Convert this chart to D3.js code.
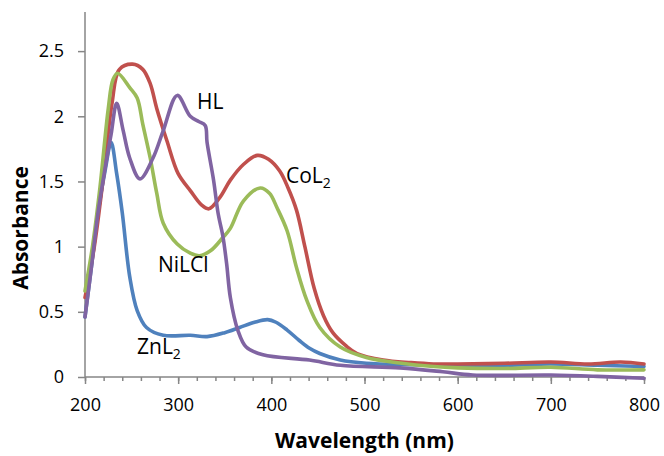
<!DOCTYPE html>
<html>
<head>
<meta charset="utf-8">
<script src="https://cdn.jsdelivr.net/npm/d3@7"></script>
<style>
  html, body { margin: 0; padding: 0; background: #ffffff; }
  svg { display: block; }
  text { font-family: "Open Sans", "Liberation Sans", sans-serif; fill: #000; }
</style>
</head>
<body>
<svg id="chart" width="664" height="456"></svg>
<script>
// ---- Data ----
const xTicks = [200, 300, 400, 500, 600, 700, 800];
const yTicks = [0, 0.5, 1, 1.5, 2, 2.5];
const yTickLabels = ["0", "0.5", "1", "1.5", "2", "2.5"];

const znWave = [200, 207, 214, 222, 228, 234, 240, 248, 256, 266, 284, 313, 331, 350, 366, 382, 396, 405, 417, 430, 441, 452, 474, 502, 550, 600, 650, 700, 750, 800];
const znAbs  = [0.46, 0.85, 1.26, 1.60, 1.80, 1.56, 1.26, 0.77, 0.51, 0.38, 0.32, 0.32, 0.31, 0.34, 0.38, 0.42, 0.44, 0.42, 0.36, 0.28, 0.22, 0.18, 0.13, 0.105, 0.095, 0.09, 0.09, 0.10, 0.09, 0.08];

const coWave = [200, 210, 220, 229, 237, 251, 262, 270, 277, 288, 300, 313, 325, 333, 345, 356, 370, 385, 397, 409, 418, 427, 436, 446, 456, 466, 480, 492, 520, 550, 574, 600, 650, 700, 740, 775, 800];
const coAbs  = [0.61, 1.00, 1.55, 2.10, 2.36, 2.40, 2.36, 2.25, 2.06, 1.81, 1.56, 1.43, 1.32, 1.29, 1.38, 1.51, 1.63, 1.70, 1.67, 1.58, 1.45, 1.28, 1.00, 0.68, 0.47, 0.34, 0.24, 0.18, 0.13, 0.11, 0.10, 0.10, 0.105, 0.115, 0.10, 0.115, 0.10];

const niWave = [200, 208, 216, 225, 230, 235, 248, 256, 262, 270, 277, 284, 299, 313, 323, 335, 348, 356, 370, 388, 398, 406, 417, 427, 438, 452, 474, 502, 538, 574, 600, 650, 700, 750, 800];
const niAbs  = [0.66, 1.00, 1.45, 2.06, 2.28, 2.33, 2.22, 2.14, 1.94, 1.68, 1.41, 1.18, 1.02, 0.95, 0.93, 0.97, 1.07, 1.14, 1.35, 1.45, 1.41, 1.30, 1.12, 0.84, 0.59, 0.38, 0.23, 0.15, 0.107, 0.08, 0.07, 0.065, 0.075, 0.055, 0.055];

const hlWave = [200, 207, 214, 222, 228, 234, 241, 248, 259, 273, 284, 299, 313, 322, 329, 331, 338, 343, 348, 352, 356, 364, 373, 391, 441, 474, 538, 584, 616, 700, 750, 800];
const hlAbs  = [0.46, 0.85, 1.26, 1.62, 1.86, 2.10, 1.89, 1.68, 1.52, 1.68, 1.89, 2.16, 2.00, 1.96, 1.93, 1.80, 1.51, 1.25, 1.08, 0.87, 0.61, 0.36, 0.23, 0.17, 0.13, 0.09, 0.07, 0.04, 0.015, 0.015, 0.005, -0.01];

const seriesNames  = ["ZnL2", "CoL2", "NiLCl", "HL"];
const seriesColors = ["#4F81BD", "#C0504D", "#9BBB59", "#8064A2"];

// ---- Layout ----
const svg = d3.select("#chart");
const plotL = 85, plotR = 644, plotT = 12, plotB = 377;

const x = d3.scaleLinear().domain([200, 800]).range([plotL, plotR]);
const y = d3.scaleLinear().domain([0, 2.8]).range([plotB, plotT]);

const axisColor = "#868686";

const series = [
  {name: seriesNames[0], color: seriesColors[0], w: znWave, a: znAbs},
  {name: seriesNames[1], color: seriesColors[1], w: coWave, a: coAbs},
  {name: seriesNames[2], color: seriesColors[2], w: niWave, a: niAbs},
  {name: seriesNames[3], color: seriesColors[3], w: hlWave, a: hlAbs}
];
const line = d3.line().x(d => x(d[0])).y(d => y(d[1])).curve(d3.curveCatmullRom.alpha(0.5));

// Axes
const xAxisMinor = d3.axisBottom(x).tickValues(d3.range(200, 801, 20)).tickSize(4).tickFormat("");
const gxm = svg.append("g").attr("transform", `translate(0,${plotB})`).call(xAxisMinor);
gxm.select(".domain").remove();
gxm.selectAll("line").attr("stroke", axisColor).attr("stroke-width", 1.5);

const xAxis = d3.axisBottom(x).tickValues(xTicks).tickSize(7).tickPadding(14).tickFormat(d3.format("d"));
const gx = svg.append("g").attr("transform", `translate(0,${plotB})`).call(xAxis);
gx.select(".domain").remove();
gx.selectAll("line").attr("stroke", axisColor).attr("stroke-width", 1.5);
gx.selectAll("text").attr("font-size", 18).attr("font-family", "Open Sans").attr("fill", "#000");

const yAxis = d3.axisLeft(y).tickValues(yTicks).tickSize(7).tickPadding(14)
  .tickFormat((d, i) => yTickLabels[i]);
const gy = svg.append("g").attr("transform", `translate(${plotL},0)`).call(yAxis);
gy.select(".domain").remove();
gy.selectAll("line").attr("stroke", axisColor).attr("stroke-width", 1.5);
gy.selectAll("text").attr("font-size", 18).attr("font-family", "Open Sans").attr("fill", "#000");

svg.append("line").attr("x1", plotL).attr("x2", plotL).attr("y1", y(2.8)).attr("y2", plotB)
  .attr("stroke", axisColor).attr("stroke-width", 1.5);
svg.append("line").attr("x1", plotL).attr("x2", plotR).attr("y1", plotB).attr("y2", plotB)
  .attr("stroke", axisColor).attr("stroke-width", 1.5);

svg.append("g").selectAll("path").data(series).join("path")
  .attr("d", s => line(s.w.map((w, i) => [w, s.a[i]])))
  .attr("fill", "none")
  .attr("stroke", s => s.color)
  .attr("stroke-width", 3.6)
  .attr("stroke-linejoin", "round")
  .attr("stroke-linecap", "round");

// Series labels
function label(txt, sub, px, py) {
  const t = svg.append("text").attr("x", px).attr("y", py).attr("font-size", 21);
  t.append("tspan").text(txt);
  if (sub) t.append("tspan").attr("font-size", 14).attr("dy", 5).text(sub);
}
label("HL", null, 197, 109);
label("CoL", "2", 286, 183);
label("NiLCl", null, 158, 272);
label("ZnL", "2", 137, 354);

// Axis titles
svg.append("text").attr("x", (plotL + plotR) / 2).attr("y", 448)
  .attr("text-anchor", "middle").attr("font-size", 21).attr("font-weight", "bold")
  .text("Wavelength (nm)");
svg.append("text").attr("transform", "translate(28,228) rotate(-90)")
  .attr("text-anchor", "middle").attr("font-size", 21).attr("font-weight", "bold")
  .text("Absorbance");
</script>
</body>
</html>
